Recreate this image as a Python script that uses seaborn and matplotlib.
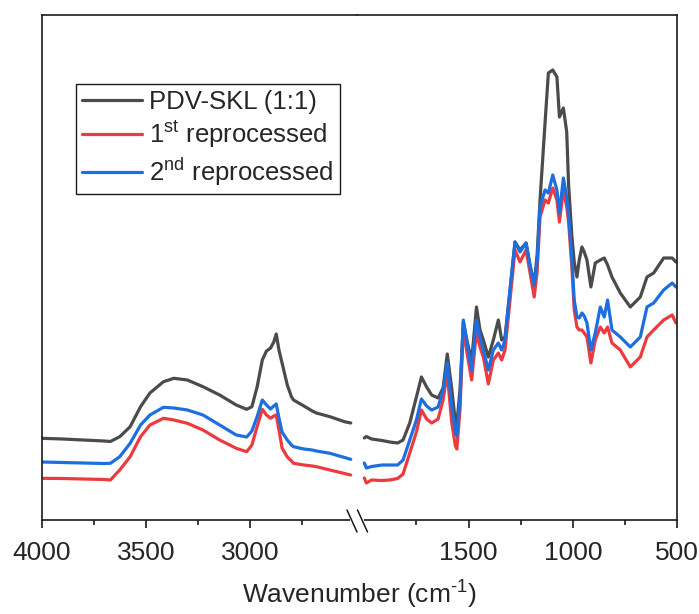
import matplotlib
matplotlib.use("Agg")
import matplotlib.pyplot as plt
from matplotlib.lines import Line2D
from matplotlib.ticker import FixedLocator
import pandas as pd
import seaborn as sns

# ---- FTIR spectra (absorbance, a.u., stacked) ----
# High-wavenumber segment (cm^-1)
wn_high = [4000, 3900, 3800, 3700, 3670, 3625, 3575, 3525, 3480, 3415, 3365, 3300,
           3225, 3145, 3065, 3015, 2990, 2965, 2940, 2920, 2900, 2885, 2873, 2860,
           2845, 2820, 2800, 2790, 2740, 2700, 2680, 2615, 2545, 2515]
pdv_high = [0.817, 0.81, 0.80, 0.79, 0.785, 0.833, 0.933, 1.133, 1.27, 1.383, 1.417, 1.40,
            1.333, 1.25, 1.15, 1.107, 1.133, 1.33, 1.60, 1.69, 1.72, 1.78, 1.86, 1.70,
            1.57, 1.35, 1.233, 1.20, 1.14, 1.09, 1.07, 1.033, 0.983, 0.97]
rep1_high = [0.417, 0.415, 0.41, 0.405, 0.40, 0.50, 0.633, 0.833, 0.95, 1.017, 1.00, 0.967,
             0.90, 0.80, 0.717, 0.683, 0.75, 0.933, 1.107, 1.05, 1.017, 1.04, 1.05, 0.90,
             0.72, 0.63, 0.59, 0.567, 0.55, 0.54, 0.533, 0.50, 0.465, 0.45]
rep2_high = [0.58, 0.575, 0.57, 0.565, 0.567, 0.633, 0.767, 0.95, 1.05, 1.127, 1.12, 1.10,
             1.05, 0.95, 0.85, 0.83, 0.89, 1.033, 1.20, 1.15, 1.11, 1.14, 1.16, 1.02,
             0.88, 0.80, 0.75, 0.733, 0.71, 0.70, 0.69, 0.667, 0.625, 0.607]

# Fingerprint segment (cm^-1)
wn_low = [2000, 1990, 1965, 1915, 1878, 1840, 1814, 1782, 1750, 1726, 1701, 1677, 1646, 1622,
          1602, 1581, 1563, 1556, 1541, 1525, 1508, 1485, 1462, 1445, 1429, 1405, 1381, 1357,
          1341, 1325, 1301,
          1277, 1253, 1224, 1204, 1185, 1171, 1157, 1133, 1117, 1096, 1076, 1064, 1045, 1029,
          1020, 1004,
          993, 980, 969, 956, 945, 932, 913, 892, 868, 849, 833, 812, 772, 724, 676, 644, 612,
          564, 523, 505]
pdv_low = [0.82, 0.835, 0.81, 0.795, 0.78, 0.77, 0.80, 0.97, 1.23, 1.43, 1.33, 1.25, 1.22, 1.32,
           1.66, 1.32, 0.98, 0.96, 1.30, 1.98, 1.80, 1.59, 2.13, 1.90, 1.80, 1.63, 1.80, 2.00,
           1.80, 1.83, 2.30,
           2.78, 2.70, 2.77, 2.54, 2.36, 2.65, 3.20, 3.97, 4.47, 4.50, 4.43, 4.03, 4.12, 3.88,
           3.35, 2.83,
           2.58, 2.43, 2.60, 2.73, 2.68, 2.60, 2.33, 2.57, 2.60, 2.62, 2.55, 2.43, 2.27, 2.13,
           2.23, 2.43, 2.47, 2.62, 2.62, 2.58]
rep1_low = [0.42, 0.37, 0.40, 0.395, 0.40, 0.415, 0.46, 0.67, 0.88, 1.10, 1.01, 0.97, 1.01, 1.20,
            1.47, 0.98, 0.74, 0.71, 1.10, 1.92, 1.68, 1.40, 1.88, 1.73, 1.63, 1.36, 1.60, 1.67,
            1.60, 1.70, 2.20,
            2.70, 2.58, 2.70, 2.46, 2.23, 2.48, 3.03, 3.20, 3.17, 3.32, 3.20, 2.98, 3.30, 3.13,
            2.98, 2.52,
            2.10, 1.93, 1.90, 1.90, 1.87, 1.83, 1.57, 1.80, 1.93, 1.87, 1.93, 1.77, 1.70, 1.53,
            1.63, 1.83, 1.90, 2.00, 2.05, 1.97]
rep2_low = [0.57, 0.52, 0.535, 0.55, 0.55, 0.55, 0.60, 0.80, 1.00, 1.21, 1.14, 1.10, 1.13, 1.30,
            1.57, 1.15, 0.88, 0.84, 1.20, 2.00, 1.78, 1.50, 2.00, 1.83, 1.70, 1.50, 1.70, 1.77,
            1.70, 1.80, 2.30,
            2.78, 2.68, 2.77, 2.53, 2.35, 2.58, 3.13, 3.30, 3.27, 3.45, 3.30, 3.07, 3.42, 3.23,
            3.05, 2.60,
            2.20, 2.03, 2.02, 2.07, 2.04, 1.97, 1.70, 1.87, 2.13, 2.03, 2.20, 1.90, 1.83, 1.73,
            1.83, 2.13, 2.17, 2.30, 2.37, 2.33]

series_names = ["PDV-SKL (1:1)", "1$^{\\mathrm{st}}$ reprocessed", "2$^{\\mathrm{nd}}$ reprocessed"]
series_colors = ["#4b4b4b", "#ec3a3f", "#1d6fe0"]

major_high = [4000, 3500, 3000]
minor_high = [3750, 3250, 2750]
major_low = [1500, 1000, 500]
minor_low = [1750, 1250, 750]

sns.set_theme(style="white")
plt.rcParams["font.family"] = ["Liberation Sans", "DejaVu Sans"]
plt.rcParams["mathtext.fontset"] = "custom"
plt.rcParams["mathtext.rm"] = "Liberation Sans"
plt.rcParams["mathtext.it"] = "Liberation Sans:italic"
plt.rcParams["mathtext.bf"] = "Liberation Sans:bold"
plt.rcParams["axes.unicode_minus"] = False
plt.rcParams["lines.solid_joinstyle"] = "round"
plt.rcParams["lines.solid_capstyle"] = "round"


def long_form(wn, pdv, rep1, rep2):
    frames = []
    for name, vals in zip(series_names, (pdv, rep1, rep2)):
        frames.append(pd.DataFrame({"wn": wn, "A": vals, "sample": name}))
    return pd.concat(frames, ignore_index=True)


df_high = long_form(wn_high, pdv_high, rep1_high, rep2_high)
df_low = long_form(wn_low, pdv_low, rep1_low, rep2_low)

W, H = 699, 614
fig = plt.figure(figsize=(W / 100, H / 100), dpi=100)
x0, xb, x1 = 41.7, 357.0, 677.0
yb, yt = 520.0, 15.0
ax_h = fig.add_axes([x0 / W, 1 - yb / H, (xb - x0) / W, (yb - yt) / H])
ax_l = fig.add_axes([xb / W, 1 - yb / H, (x1 - xb) / W, (yb - yt) / H])

palette = dict(zip(series_names, series_colors))
for ax, df, xlim in ((ax_h, df_high, (4000, 2485)), (ax_l, df_low, (2035, 500))):
    sns.lineplot(data=df, x="wn", y="A", hue="sample", hue_order=series_names,
                 palette=palette, estimator=None, sort=False, linewidth=2.3,
                 legend=False, ax=ax)
    ax.set_xlim(*xlim)
    ax.set_ylim(0, 5.05)
    ax.set_xlabel("")
    ax.set_ylabel("")
    ax.set_yticks([])
    for s in ax.spines.values():
        s.set_color("#1a1a1a")
        s.set_linewidth(1.2)
    ax.tick_params(axis="x", which="major", direction="out", length=6, width=1.2,
                   color="#1a1a1a", labelsize=19, pad=9, bottom=True)
    ax.tick_params(axis="x", which="minor", direction="out", length=3.5, width=1.2,
                   color="#1a1a1a", bottom=True)

ax_h.spines["right"].set_visible(False)
ax_l.spines["left"].set_visible(False)
ax_h.xaxis.set_major_locator(FixedLocator(major_high))
ax_h.xaxis.set_minor_locator(FixedLocator(minor_high))
ax_l.xaxis.set_major_locator(FixedLocator(major_low))
ax_l.xaxis.set_minor_locator(FixedLocator(minor_low))
ax_h.set_xticklabels([str(v) for v in major_high])
ax_l.set_xticklabels([str(v) for v in major_low])

# axis break marks
def px(x, y):
    return (x / W, 1 - y / H)

fig.add_artist(Line2D([px(352, 0)[0], px(362, 0)[0]], [px(0, yb)[1]] * 2,
                      color="white", lw=3, zorder=10))
for xs in (347.0, 357.5):
    (ax_, ay_), (bx_, by_) = px(xs, 510), px(xs + 10, 532)
    fig.add_artist(Line2D([ax_, bx_], [ay_, by_], color="#1a1a1a", lw=1.1, zorder=11))

fig.text((x0 + x1) / 2 / W, 1 - 595 / H, "Wavenumber (cm$^{\\text{-1}}$)", ha="center",
         va="center", fontsize=19)

handles = [Line2D([], [], color=c, lw=2.3) for c in series_colors]
leg = fig.legend(handles, series_names, loc="upper left",
                 bbox_to_anchor=(76 / W, 1 - 84 / H), borderaxespad=0,
                 fontsize=18.5, frameon=True, fancybox=False, framealpha=1,
                 edgecolor="#1a1a1a", handlelength=2.3, handletextpad=0.3,
                 labelspacing=0.2, borderpad=0.25)
leg.get_frame().set_linewidth(1.0)

fig.savefig("out.png", dpi=100)
